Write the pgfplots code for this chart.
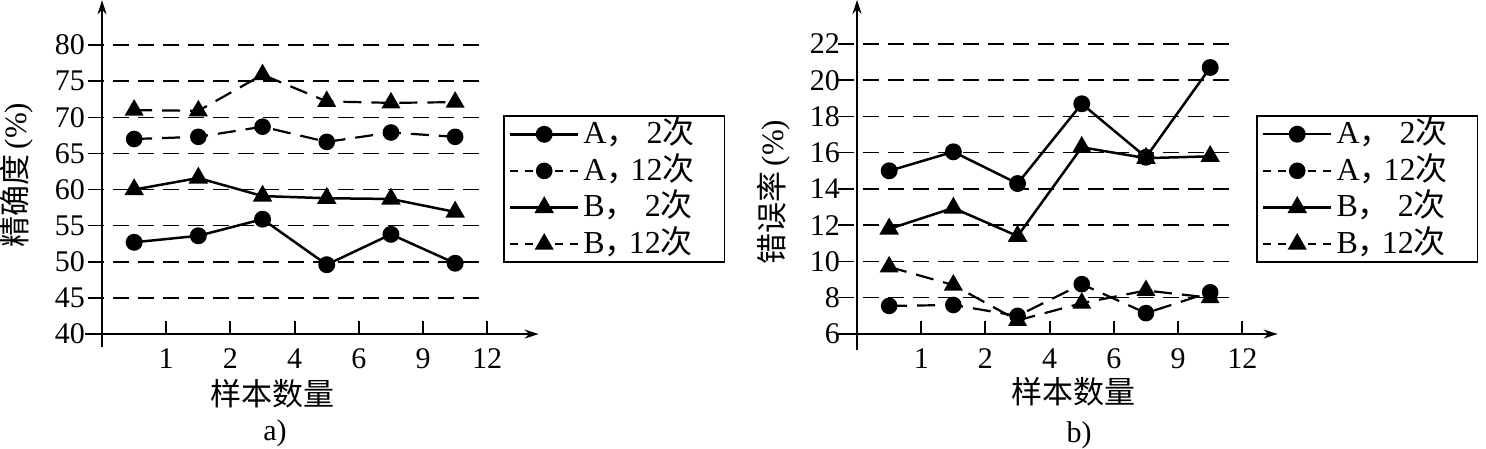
\documentclass[border=0pt]{standalone}
\usepackage{fontspec}
\setmainfont{Liberation Serif}
\newfontfamily\cjk{Noto Sans CJK SC}
\usepackage{pgfplots}
\pgfplotsset{compat=1.18}
\usetikzlibrary{arrows.meta}

\tikzset{
  gridl/.style={black, line width=0.75pt, dash pattern=on 8pt off 4.5pt},
  axl/.style={black, line width=1pt},
}
\pgfplotsset{
  myaxis/.style={
    scale only axis, clip=false,
    anchor=south west,
    axis line style={draw=none},
    major tick length=0pt,
    tick label style={font=\fontsize{15}{17}\selectfont},
    xtick={1,...,6}, xticklabels={1,2,4,6,9,12},
    xticklabel style={anchor=north, inner sep=0pt, yshift=0pt},
    yticklabel style={anchor=east, inner sep=0pt, xshift=-2pt},
    legend cell align=left,
    legend style={anchor=north west, draw=black, line width=0.9pt, inner xsep=2.5pt, inner ysep=0pt,
       font=\fontsize{16}{18}\selectfont,
       nodes={inner sep=2pt, text height=11.8pt, text depth=2.5pt}},
    legend image code/.code={\draw[mark repeat=2,mark phase=2,##1] plot coordinates {(0pt,0pt) (17pt,0pt) (34pt,0pt)};},
  },
  solidser/.style={black, line width=1.25pt, mark options={solid, fill=black}},
  dashser/.style={black, line width=1.1pt, dash pattern=on 9pt off 5pt, mark options={solid, fill=black},
    legend image code/.code={\draw[mark repeat=2,mark phase=2,##1,dash pattern=on 4pt off 3.5pt] plot coordinates {(0pt,0pt) (17pt,0pt) (34pt,0pt)};}},
  circ/.style={mark=*, mark size=3.6pt},
  tri/.style={mark=triangle*, mark size=4.4pt},
}
\newcommand{\ent}[1]{\makebox[66pt][l]{#1}}
\newcommand{\cm}{\makebox[0.75em][l]{\cjk ，}}

\begin{document}
\begin{tikzpicture}[font=\fontsize{14}{16}\selectfont]
\useasboundingbox (0,0) rectangle (743pt,224.5pt);

% ---------------- panel a ----------------
\begin{axis}[myaxis, at={(44.6pt,50.25pt)}, width=224.7pt, height=174.1pt,
  xmin=-0.2, xmax=6.8, ymin=38, ymax=86.2,
  ytick={40,45,...,80}, yticklabels={40,45,50,55,60,65,70,75,80},
  legend style={at={(0.9209,0.6703)}}]
\pgfplotsinvokeforeach{45,50,...,80}{\draw[gridl] (axis cs:-0.22,#1) -- (axis cs:5.96,#1);}
\pgfplotsinvokeforeach{1,...,6}{\draw[axl] (axis cs:#1,40) -- (axis cs:#1,41.8);}
\draw[axl,-{Stealth[length=7pt,width=4.5pt]}] (axis cs:0,38.2) -- (axis cs:0,86.2);
\draw[axl,-{Stealth[length=7pt,width=4.5pt]}] (axis cs:-0.26,40) -- (axis cs:6.8,40);

\addplot[solidser, circ] coordinates {(0.5,52.7) (1.5,53.6) (2.5,55.9) (3.5,49.6) (4.5,53.8) (5.5,49.8)};
\addlegendentry{\ent{A\cm\phantom{1}2{\cjk 次}}}
\addplot[dashser, circ] coordinates {(0.5,67.0) (1.5,67.3) (2.5,68.7) (3.5,66.6) (4.5,67.9) (5.5,67.3)};
\addlegendentry{\ent{A\cm 12{\cjk 次}}}
\addplot[solidser, tri] coordinates {(0.5,60.0) (1.5,61.6) (2.5,59.1) (3.5,58.8) (4.5,58.7) (5.5,56.9)};
\addlegendentry{\ent{B\cm\phantom{1}2{\cjk 次}}}
\addplot[dashser, tri] coordinates {(0.5,71.0) (1.5,70.9) (2.5,75.9) (3.5,72.2) (4.5,72.0) (5.5,72.1)};
\addlegendentry{\ent{B\cm 12{\cjk 次}}}
\end{axis}

% ---------------- panel b ----------------
\begin{axis}[myaxis, at={(422.1pt,50.25pt)}, width=216.7pt, height=174.3pt,
  xmin=-0.2, xmax=6.55, ymin=5.2, ymax=24.43,
  ytick={6,8,...,22}, yticklabels={6,8,10,12,14,16,18,20,22},
  legend style={at={(0.9504,0.6698)}}]
\pgfplotsinvokeforeach{8,10,...,22}{\draw[gridl] (axis cs:-0.3,#1) -- (axis cs:5.92,#1);}
\pgfplotsinvokeforeach{1,...,6}{\draw[axl] (axis cs:#1,6) -- (axis cs:#1,6.72);}
\draw[axl,-{Stealth[length=7pt,width=4.5pt]}] (axis cs:0,5.1) -- (axis cs:0,24.43);
\draw[axl,-{Stealth[length=7pt,width=4.5pt]}] (axis cs:-0.3,6) -- (axis cs:6.55,6);

\addplot[solidser, circ] coordinates {(0.5,15.0) (1.5,16.05) (2.5,14.3) (3.5,18.7) (4.5,15.75) (5.5,20.7)};
\addlegendentry{\ent{A\cm\phantom{1}2{\cjk 次}}}
\addplot[dashser, circ] coordinates {(0.5,7.55) (1.5,7.6) (2.5,7.0) (3.5,8.75) (4.5,7.15) (5.5,8.3)};
\addlegendentry{\ent{A\cm 12{\cjk 次}}}
\addplot[solidser, tri] coordinates {(0.5,11.8) (1.5,12.95) (2.5,11.4) (3.5,16.3) (4.5,15.7) (5.5,15.8)};
\addlegendentry{\ent{B\cm\phantom{1}2{\cjk 次}}}
\addplot[dashser, tri] coordinates {(0.5,9.7) (1.5,8.7) (2.5,6.75) (3.5,7.7) (4.5,8.4) (5.5,8.0)};
\addlegendentry{\ent{B\cm 12{\cjk 次}}}
\end{axis}

% ---------------- labels ----------------
\node[font=\fontsize{15.5}{17}\selectfont\cjk] at (136pt,27.5pt) {样本数量};
\node[font=\fontsize{15.5}{17}\selectfont\cjk] at (536.5pt,28.5pt) {样本数量};
\node[font=\fontsize{15}{17}\selectfont] at (137.5pt,8pt) {a)};
\node[font=\fontsize{15}{17}\selectfont] at (539.5pt,7pt) {b)};
\node[rotate=90, font=\fontsize{15.5}{17}\selectfont] at (8.5pt,137pt) {{\cjk 精确度}\,(\%)};
\node[rotate=90, font=\fontsize{15.5}{17}\selectfont] at (387pt,128.5pt) {{\cjk 错误率}\,(\%)};
\end{tikzpicture}
\end{document}
